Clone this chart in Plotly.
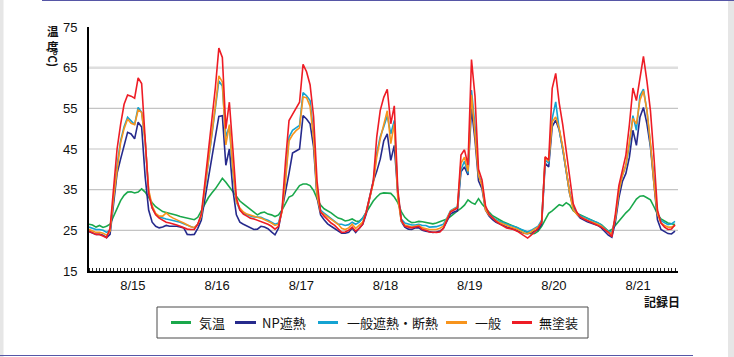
import plotly.graph_objects as go

# ---------------- data (hourly, 8/15 0:00 .. 8/21 23:00) ----------------
hours = list(range(168))
date_labels = ["8/15", "8/16", "8/17", "8/18", "8/19", "8/20", "8/21"]
label_hours = [12.5 + 24 * k for k in range(7)]
y_ticks = [15, 25, 35, 45, 55, 65, 75]
grid_values = [25, 35, 45, 55]

air = [  # 気温
    26.5, 26.3, 25.8, 26.2, 25.7, 26.0, 26.5, 28.5, 30.5, 32.3, 33.6, 34.4, 34.5, 34.2, 34.4, 35.2, 34.4, 33.0, 31.8, 30.8, 30.2, 29.6, 29.4, 29.2,
    29.0, 28.7, 28.4, 28.2, 28.0, 27.8, 27.6, 28.2, 29.8, 31.5, 33.0, 34.2, 35.2, 36.5, 37.8, 36.8, 35.6, 34.5, 33.3, 32.2, 31.5, 30.8, 30.0, 29.4,
    28.8, 29.3, 29.5, 29.0, 28.8, 28.4, 28.8, 30.0, 31.5, 33.2, 33.6, 34.8, 36.0, 36.4, 36.4, 36.0, 34.8, 32.8, 31.2, 30.3, 29.9, 29.3, 28.6, 28.0,
    27.8, 27.3, 27.5, 27.8, 27.3, 27.2, 28.0, 29.4, 31.0, 32.2, 33.2, 34.0, 34.2, 34.2, 34.1, 33.2, 31.8, 29.6, 28.2, 27.4, 26.9, 27.0, 27.2, 27.1,
    26.9, 26.7, 26.6, 26.8, 27.1, 27.5, 27.8, 28.4, 29.2, 29.8, 30.4, 31.2, 32.5, 31.8, 31.4, 32.8, 31.5, 30.4, 29.5, 28.6, 28.0, 27.6, 27.1, 26.8,
    26.4, 26.0, 25.7, 25.2, 24.8, 24.4, 24.1, 24.2, 24.8, 26.0, 27.8, 29.2, 29.8, 30.5, 31.3, 31.0, 31.8, 31.2, 29.8, 29.2, 28.8, 28.5, 28.2, 27.8,
    27.2, 26.8, 26.4, 25.6, 24.8, 25.2, 26.2, 27.4, 28.4, 29.3, 30.1, 31.5, 32.7, 33.4, 33.5, 33.0, 32.5, 30.8, 29.0, 27.8, 27.3, 26.8, 26.6, 26.4,
]

np_coat = [  # NP遮熱
    24.7, 24.3, 24.0, 24.0, 23.8, 23.2, 24.0, 31.5, 39.0, 42.5, 46.0, 49.1, 48.7, 47.5, 51.6, 50.4, 38.2, 30.0, 27.0, 26.0, 25.6, 25.8, 26.2, 26.0,
    26.0, 26.0, 25.8, 25.6, 24.0, 23.9, 24.0, 25.5, 27.5, 32.5, 37.5, 42.5, 47.5, 53.0, 53.2, 41.0, 45.0, 35.0, 28.8, 27.0, 26.5, 26.0, 25.6, 25.2,
    25.3, 26.0, 25.8, 25.4, 24.6, 23.9, 25.5, 30.5, 34.5, 39.0, 44.0, 44.5, 45.0, 53.2, 52.4, 51.2, 45.5, 33.0, 28.8, 27.6, 26.6, 26.0, 25.5, 24.8,
    24.3, 24.3, 24.5, 25.6, 24.5, 25.5, 26.5, 29.0, 33.0, 37.0, 39.5, 42.5, 47.0, 48.7, 42.2, 45.9, 34.0, 27.2, 25.8, 25.3, 25.2, 25.6, 25.6, 25.0,
    24.8, 24.6, 24.5, 24.6, 24.8, 25.5, 27.2, 29.0, 29.5, 29.8, 39.4, 40.6, 38.6, 55.0, 47.2, 37.2, 35.2, 30.0, 28.5, 27.6, 27.0, 26.6, 26.2, 25.8,
    25.6, 25.3, 25.0, 24.6, 24.3, 24.2, 24.4, 24.8, 25.2, 26.5, 41.5, 40.6, 50.5, 52.1, 49.7, 45.0, 39.0, 34.0, 31.0, 29.0, 28.0, 27.5, 27.1, 26.8,
    26.5, 26.2, 25.6, 24.6, 23.8, 23.3, 27.0, 33.0, 37.0, 39.0, 43.0, 49.6, 45.9, 52.8, 55.2, 51.2, 45.5, 36.5, 27.6, 25.2, 24.6, 24.2, 24.1, 24.8,
]

gen_insul = [  # 一般遮熱・断熱
    25.8, 25.5, 25.2, 25.2, 25.0, 24.5, 25.0, 33.0, 41.0, 47.0, 50.5, 52.8, 51.8, 51.0, 55.2, 54.0, 47.0, 34.5, 30.5, 29.0, 28.3, 28.0, 27.8, 27.6,
    27.4, 27.2, 27.0, 26.6, 26.2, 25.8, 25.6, 26.5, 28.5, 35.0, 41.5, 48.0, 55.0, 61.7, 60.5, 48.0, 50.5, 39.5, 32.0, 30.0, 29.2, 28.8, 28.5, 28.3,
    28.3, 28.2, 27.8, 27.5, 27.0, 26.5, 26.8, 30.0, 38.0, 47.9, 49.6, 50.2, 50.8, 58.9, 58.1, 56.9, 48.7, 34.0, 30.0, 29.2, 28.6, 28.0, 27.2, 26.5,
    26.5, 26.2, 26.4, 27.0, 26.5, 27.0, 28.0, 29.5, 33.0, 37.0, 44.0, 48.0, 50.5, 53.2, 48.7, 52.0, 34.0, 27.8, 26.8, 26.5, 26.3, 26.3, 26.5, 26.2,
    26.2, 25.8, 25.8, 25.9, 26.2, 26.5, 28.0, 29.8, 30.3, 30.8, 40.0, 42.0, 39.0, 59.5, 50.5, 38.6, 36.4, 30.4, 29.0, 28.2, 27.6, 27.2, 26.8, 26.4,
    26.2, 26.0, 25.6, 25.2, 24.8, 24.6, 25.0, 25.5, 26.0, 27.5, 42.3, 41.5, 52.5, 56.6, 49.7, 45.0, 40.0, 34.0, 30.5, 29.2, 28.6, 28.2, 27.8, 27.5,
    27.2, 26.9, 26.3, 25.4, 24.8, 24.5, 28.0, 34.5, 38.5, 41.0, 46.0, 53.2, 49.6, 58.1, 59.7, 54.4, 46.3, 36.5, 29.2, 27.4, 26.8, 26.4, 26.6, 27.2,
]

general = [  # 一般
    25.2, 24.8, 24.5, 24.5, 24.3, 23.8, 24.8, 33.0, 40.5, 46.5, 50.0, 52.4, 51.3, 51.0, 54.6, 54.0, 47.0, 35.0, 31.0, 29.2, 28.5, 28.5, 29.3, 28.5,
    28.0, 27.5, 27.2, 26.8, 26.3, 25.9, 25.7, 26.5, 28.5, 35.0, 42.0, 48.5, 55.5, 63.0, 61.5, 46.0, 51.0, 40.0, 32.0, 30.5, 29.5, 29.0, 28.7, 28.5,
    28.2, 28.0, 27.5, 27.2, 26.8, 26.2, 26.5, 29.5, 37.0, 47.0, 48.5, 49.5, 50.2, 57.8, 57.6, 55.5, 47.5, 33.5, 29.5, 28.8, 28.3, 27.7, 27.1, 26.5,
    25.5, 25.2, 25.6, 26.5, 25.5, 26.3, 27.0, 29.5, 33.0, 36.5, 43.0, 47.5, 51.0, 54.4, 46.3, 51.2, 33.0, 27.2, 26.3, 26.0, 25.8, 26.0, 26.2, 25.6,
    25.4, 25.2, 25.2, 25.2, 25.5, 26.0, 27.8, 29.6, 30.2, 30.6, 41.5, 43.0, 39.5, 58.3, 48.5, 38.5, 36.0, 30.0, 28.8, 28.0, 27.4, 26.9, 26.5, 26.2,
    25.9, 25.6, 25.3, 24.8, 24.3, 24.2, 24.6, 25.3, 25.8, 27.0, 43.0, 42.0, 51.7, 52.9, 50.0, 45.5, 40.0, 34.0, 30.0, 29.0, 28.3, 28.0, 27.5, 27.2,
    26.8, 26.5, 26.0, 25.2, 24.5, 24.2, 28.0, 34.5, 38.5, 41.0, 46.5, 52.5, 51.2, 57.0, 59.3, 54.5, 46.5, 36.5, 29.0, 26.8, 26.2, 25.8, 25.8, 26.2,
]

bare = [  # 無塗装
    24.8, 24.3, 24.0, 24.0, 23.6, 23.2, 25.5, 36.0, 45.0, 51.0, 56.0, 58.3, 58.0, 57.5, 62.5, 61.1, 48.0, 34.0, 30.5, 28.8, 28.0, 27.5, 27.0, 26.8,
    26.6, 26.3, 26.0, 25.6, 25.3, 25.2, 25.2, 26.5, 29.0, 36.5, 44.0, 51.5, 60.0, 69.8, 67.5, 50.0, 56.5, 45.0, 33.0, 30.0, 29.0, 28.5, 28.0, 27.8,
    27.5, 27.2, 26.8, 26.5, 26.0, 25.3, 26.0, 30.0, 42.0, 52.0, 53.5, 55.0, 56.5, 65.8, 64.0, 60.8, 53.0, 37.0, 29.5, 28.5, 27.6, 26.8, 26.2, 25.3,
    24.5, 24.6, 25.0, 25.8, 24.8, 25.5, 26.5, 29.5, 33.5, 37.0, 48.0, 54.5, 57.7, 59.7, 51.2, 55.6, 35.0, 27.6, 26.0, 25.8, 25.6, 25.8, 26.0, 25.2,
    25.0, 24.6, 24.5, 24.5, 24.6, 25.5, 27.5, 29.5, 30.0, 30.5, 43.5, 44.8, 41.1, 67.0, 58.0, 40.0, 37.4, 31.0, 29.0, 28.0, 27.2, 26.6, 26.0, 25.6,
    25.4, 25.2, 24.8, 24.2, 23.6, 23.1, 23.8, 24.6, 25.5, 27.0, 43.1, 42.3, 59.9, 63.6, 56.3, 51.0, 44.0, 37.0, 31.5, 29.5, 28.3, 27.8, 27.4, 27.0,
    26.6, 26.2, 25.8, 25.2, 24.5, 23.4, 29.0, 36.0, 40.0, 43.5, 51.0, 60.0, 56.9, 62.6, 67.8, 61.7, 54.4, 43.0, 30.0, 26.8, 25.8, 25.2, 25.3, 26.4,
]

series_names = ["気温", "NP遮熱", "一般遮熱・断熱", "一般", "無塗装"]
series_values = [air, np_coat, gen_insul, general, bare]
series_colors = ["#1aa84b", "#262a8c", "#14a3d2", "#f7941d", "#ee1c25"]

# ---------------- layout geometry (pixels) ----------------
W_PX, H_PX = 734, 357
L, R, T, B = 89, 678, 27, 271


def px(x):
    return (x - L) / (R - L)


def py(y):
    return (B - y) / (B - T)


FONT = "Liberation Sans, Arial, Noto Sans CJK JP, sans-serif"
CJK = "Noto Sans CJK JP, Liberation Sans, sans-serif"

fig = go.Figure()
for name, vals, col in zip(series_names, series_values, series_colors):
    fig.add_trace(go.Scatter(x=hours, y=vals, mode="lines", name=name,
                             line=dict(color=col, width=1.6), showlegend=False,
                             hoverinfo="skip"))

shapes = []
# horizontal grid lines
for g in grid_values:
    shapes.append(dict(type="line", xref="paper", yref="y", x0=0, x1=1, y0=g, y1=g,
                       line=dict(color="#c4c4c4", width=1.2), layer="below"))
shapes.append(dict(type="line", xref="paper", yref="y", x0=0, x1=1, y0=65, y1=65,
                   line=dict(color="#dedede", width=2.5), layer="below"))

# page frame decorations
shapes.append(dict(type="line", xref="paper", yref="paper", x0=px(42), x1=px(734),
                   y0=py(0.5), y1=py(0.5), line=dict(color="#5656a6", width=1.2)))
shapes.append(dict(type="line", xref="paper", yref="paper", x0=px(0), x1=px(693),
                   y0=py(355.5), y1=py(355.5), line=dict(color="#5656a6", width=1.2)))
shapes.append(dict(type="rect", xref="paper", yref="paper", x0=px(0), x1=px(3.5),
                   y0=py(357), y1=py(0), fillcolor="#e6e6e6", line=dict(width=0), layer="below"))
shapes.append(dict(type="rect", xref="paper", yref="paper", x0=px(728), x1=px(734),
                   y0=py(357), y1=py(0), fillcolor="#e6e6e6", line=dict(width=0), layer="below"))

# legend box
shapes.append(dict(type="rect", xref="paper", yref="paper", x0=px(157), x1=px(588),
                   y0=py(338), y1=py(307), line=dict(color="#4a4a4a", width=1),
                   fillcolor="white"))
legend_line_x = [(171, 191), (235, 256), (318, 338), (446, 467), (512, 532)]
legend_text_x = [197, 260, 345, 473, 537]
annotations = []
for (x0, x1), tx, name, col in zip(legend_line_x, legend_text_x, series_names, series_colors):
    shapes.append(dict(type="line", xref="paper", yref="paper", x0=px(x0), x1=px(x1),
                       y0=py(322.5), y1=py(322.5), line=dict(color=col, width=3)))
    annotations.append(dict(xref="paper", yref="paper", x=px(tx), y=py(322.5),
                            text=name, showarrow=False, xanchor="left", yanchor="middle",
                            font=dict(family=CJK, size=13, color="#111")))

# axis titles
annotations.append(dict(xref="paper", yref="paper", x=px(53), y=py(21),
                        text="<b>温<br>度</b>", showarrow=False, xanchor="center",
                        yanchor="top", font=dict(family=CJK, size=11.5, color="#111")))
annotations.append(dict(xref="paper", yref="paper", x=px(53), y=py(57),
                        text="<b>(℃)</b>", textangle=90, showarrow=False,
                        xanchor="center", yanchor="middle",
                        font=dict(family=CJK, size=11.5, color="#111")))
annotations.append(dict(xref="paper", yref="paper", x=px(682), y=py(301),
                        text="<b>記録日</b>", showarrow=False, xanchor="right",
                        yanchor="middle", font=dict(family=CJK, size=12, color="#111")))

fig.update_layout(
    width=W_PX, height=H_PX,
    margin=dict(l=L, r=W_PX - R, t=T, b=H_PX - B, pad=0),
    paper_bgcolor="white", plot_bgcolor="white",
    font=dict(family=FONT, size=13, color="#111"),
    shapes=shapes, annotations=annotations,
    showlegend=False,
)
fig.update_xaxes(
    range=[0, 167.85], showgrid=False, zeroline=False,
    showline=True, linecolor="black", linewidth=2,
    tickmode="array", tickvals=label_hours, ticktext=date_labels, ticks="",
    ticklabelstandoff=1, tickfont=dict(family=FONT, size=13, color="#111"),
    minor=dict(tickmode="linear", tick0=0, dtick=1, ticks="inside",
               ticklen=3, tickwidth=1, tickcolor="#222", showgrid=False),
)
fig.update_yaxes(
    range=[15, 75], showgrid=False, zeroline=False,
    showline=True, linecolor="black", linewidth=2,
    tickmode="array", tickvals=y_ticks, ticks="",
    ticklabelstandoff=7, tickfont=dict(family=FONT, size=13, color="#111"),
)

fig.write_html(
    "out.html",
    config={"displayModeBar": False, "staticPlot": True},
    post_script="document.body.style.margin='0';document.body.style.overflow='hidden';",
)
